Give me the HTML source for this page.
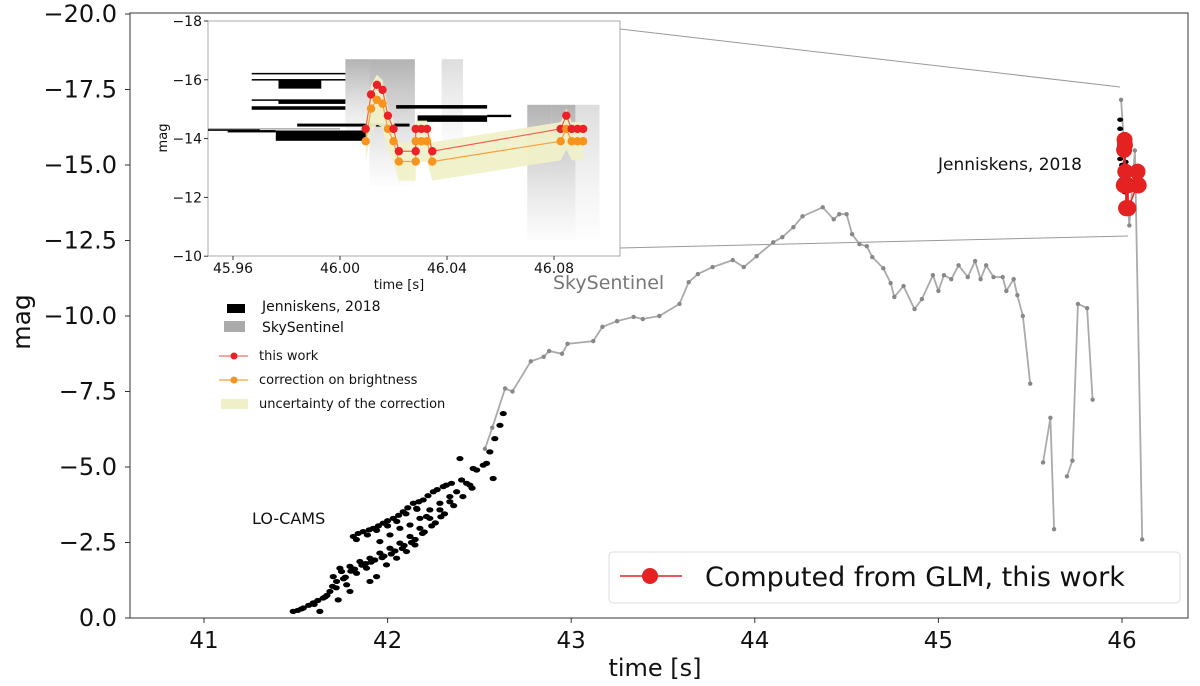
<!DOCTYPE html>
<html><head><meta charset="utf-8">
<style>
html,body{margin:0;padding:0;background:#fff;}
svg{display:block;font-family:"DejaVu Sans","Liberation Sans",sans-serif;}
</style></head>
<body>
<svg id="chart" width="1200" height="686" viewBox="0 0 1200 686" xmlns="http://www.w3.org/2000/svg">
<defs>
<linearGradient id="gfade" x1="0" y1="0" x2="0" y2="1">
<stop offset="0" stop-color="#999" stop-opacity="0.75"/><stop offset="1" stop-color="#bbb" stop-opacity="0.03"/>
</linearGradient>
<linearGradient id="gfade2" x1="0" y1="0" x2="0" y2="1">
<stop offset="0" stop-color="#aaa" stop-opacity="0.4"/><stop offset="1" stop-color="#ccc" stop-opacity="0.03"/>
</linearGradient>
</defs>
<g id="main"></g>
<g id="inset"></g>
<g id="legend"></g>
</svg>
<script>
// ---------- data ----------
const xTicks = [41, 42, 43, 44, 45, 46];
const yTicks = [0, -2.5, -5, -7.5, -10, -12.5, -15, -17.5, -20];
const skyT1 = [42.53,42.57,42.64,42.68,42.78,42.85,42.88,42.95,42.98,43.12,43.17,43.25,43.34,43.39,43.48,43.59,43.64,43.69,43.77,43.88,43.94,44.01,44.10,44.15,44.21,44.26,44.37,44.43,44.46,44.50,44.53,44.57,44.61,44.64,44.70,44.74,44.76,44.81,44.87,44.91,44.97,45.00,45.03,45.07,45.11,45.16,45.20,45.23,45.26,45.30,45.35,45.37,45.41,45.43,45.46,45.50];
const skyM1 = [-5.6,-6.3,-7.6,-7.5,-8.5,-8.65,-8.84,-8.75,-9.08,-9.17,-9.64,-9.83,-9.97,-9.9,-10.0,-10.4,-11.12,-11.39,-11.62,-11.85,-11.62,-11.98,-12.44,-12.61,-12.94,-13.3,-13.6,-13.2,-13.37,-13.37,-12.71,-12.38,-12.31,-11.95,-11.58,-11.09,-10.63,-10.99,-10.23,-10.56,-11.35,-10.83,-11.35,-11.22,-11.68,-11.29,-11.82,-11.22,-11.68,-11.29,-11.29,-10.83,-11.22,-10.69,-10.0,-7.76];
const skyT2 = [45.57,45.61,45.63];
const skyM2 = [-5.15,-6.63,-2.94];
const skyT3 = [45.70,45.73,45.76,45.81,45.84];
const skyM3 = [-4.69,-5.21,-10.4,-10.26,-7.23];
const skyT4 = [45.995,46.04,46.07,46.11];
const skyM4 = [-17.16,-13.0,-15.48,-2.6];
const camsT = [41.486,41.541,41.595,41.649,41.686,41.722,41.749,41.795,41.849,41.904,41.958,42.013,42.067,42.122,42.176,42.230,42.285,42.339,42.376,42.430,42.485,42.539,42.557,42.584,42.612,42.630,
41.813,41.867,41.922,41.976,42.031,42.085,42.140,42.194,42.249,42.303,42.348,42.403,42.448,42.466,42.521,42.394,
41.704,41.740,41.777,41.831,41.885,41.940,41.994,42.049,42.103,42.149,41.904,41.795,41.731,41.631,41.958,42.013,42.067,42.122,42.176,42.230,42.285,42.339,42.575,42.158,42.212,
41.51,41.57,41.62,41.67,41.70,41.77,41.82,41.88,41.93,41.98,42.04,42.09,42.15,42.20,42.26,42.31,42.36,42.41,42.46,41.84,41.90,41.95,42.00,42.06,42.11,42.17,42.22,42.27,42.32,
41.53,41.60,41.66,41.72,41.76,41.80,41.86,41.91,41.97,42.02,42.08,42.13,42.19,42.24,42.29,41.83,41.89,41.94,42.00,42.05,42.10,42.16];
const camsM = [-0.22,-0.33,-0.50,-0.66,-0.88,-1.21,-1.54,-1.71,-1.87,-1.98,-2.15,-2.31,-2.48,-2.70,-2.97,-3.30,-3.58,-3.85,-4.18,-4.46,-4.90,-5.12,-5.50,-5.94,-6.38,-6.77,
-2.70,-2.86,-2.97,-3.14,-3.30,-3.52,-3.80,-3.91,-4.18,-4.35,-4.46,-4.57,-4.40,-4.95,-5.06,-5.28,
-1.37,-1.65,-1.10,-1.48,-1.65,-1.37,-1.76,-1.98,-2.20,-2.42,-1.21,-0.88,-0.60,-0.22,-2.53,-2.75,-2.97,-3.08,-3.30,-3.58,-3.80,-4.02,-4.62,-3.63,-3.36,
-0.25,-0.42,-0.58,-0.75,-1.05,-1.35,-1.62,-1.80,-1.92,-2.05,-2.22,-2.40,-2.60,-2.85,-3.15,-3.45,-3.72,-4.02,-4.30,-2.80,-2.92,-3.05,-3.22,-3.40,-3.65,-3.85,-4.05,-4.25,-4.40,
-0.30,-0.45,-0.70,-1.00,-1.30,-1.55,-1.75,-1.85,-2.00,-2.12,-2.30,-2.50,-2.80,-3.05,-3.35,-2.60,-2.75,-2.90,-3.05,-3.20,-3.45,-3.60];
const jenT = [45.99,45.99,45.995,46.0,46.0,46.005,46.01,46.01,46.015,46.02,46.025,46.03,45.995,46.005,45.99,46.0];
const jenM = [-16.5,-16.2,-15.4,-15.0,-14.7,-14.3,-14.9,-15.6,-14.1,-15.1,-14.6,-14.9,-14.5,-15.9,-15.2,-14.4];
const workT = [46.0096,46.0116,46.0138,46.0159,46.0179,46.02,46.022,46.0283,46.0283,46.0304,46.0325,46.0345,46.0825,46.0846,46.0866,46.0888,46.0909];
const workM = [-14.33,-15.50,-15.83,-15.66,-14.78,-14.33,-13.57,-13.57,-14.33,-14.33,-14.33,-13.57,-14.33,-14.78,-14.33,-14.33,-14.33];
const corrM = [-13.91,-15.02,-15.32,-15.19,-14.33,-13.91,-13.22,-13.22,-13.91,-13.91,-13.91,-13.22,-13.91,-14.33,-13.91,-13.91,-13.91];
const corrErr = [0.7,0.8,0.85,0.8,0.75,0.7,0.65,0.65,0.7,0.7,0.7,0.65,0.65,0.7,0.65,0.65,0.65];
const insetXTicks = [45.96, 46.00, 46.04, 46.08];
const insetYTicks = [-18, -16, -14, -12, -10];
const barT0 = [45.958,45.967,45.977,45.967,45.967,45.977,45.967,45.976,45.984,46.021,46.029,46.055,45.95];
const barT1 = [45.976,46.002,45.993,46.002,46.002,46.002,46.002,46.010,46.026,46.055,46.055,46.064,45.97];
const barM  = [-14.33,-16.26,-16.15,-16.05,-15.36,-15.36,-15.16,-14.45,-14.56,-15.20,-14.90,-14.85,-14.33];
const barH  = [0.08,0.05,0.3,0.05,0.05,0.12,0.12,0.35,0.1,0.12,0.22,0.08,0.03];
const skyBT0 = [46.002,46.011,46.038,46.070,46.079,46.088];
const skyBT1 = [46.011,46.028,46.046,46.079,46.088,46.097];
const skyBTop = [-16.7,-16.7,-16.7,-15.15,-15.15,-15.15];
const skyBBot = [-14.0,-12.4,-13.5,-10.5,-10.5,-10.5];

// ---------- scales ----------
const X = t => 204 + (t - 41) * 183.6;
const Y = m => 618 + m * 30.2;
const XI = t => 233 + (t - 45.96) * 2675;
const YI = m => 21 + (m + 18) * 29.4;
const NS = "http://www.w3.org/2000/svg";
function mk(parent, tag, attrs, text) {
  const e = document.createElementNS(NS, tag);
  for (const k in attrs) e.setAttribute(k, attrs[k]);
  if (text !== undefined) e.textContent = text;
  parent.appendChild(e);
  return e;
}
const main = document.getElementById('main');
const inset = document.getElementById('inset');
const leg = document.getElementById('legend');

let e = mk(main, 'rect', {x:130, y:13, width:1058, height:605, fill:'none', stroke:'#555', 'stroke-width':1.2});


xTicks.forEach(t => {
  let tk = mk(main, 'line', {x1:X(t), x2:X(t), y1:618, y2:623, stroke:'#333'});
  
  
  let lb = mk(main, 'text', {x:X(t), y:648, 'font-size':23, 'text-anchor':'middle', fill:'#111'}, String(t));
  
  
});
yTicks.forEach(m => {
  let tk = mk(main, 'line', {x1:125, x2:130, y1:Y(m), y2:Y(m), stroke:'#333'});
  
  
  let s = (m === 0 ? '0.0' : '\u2212' + Math.abs(m).toFixed(1));
  let lb = mk(main, 'text', {x:117, y:Y(m) + 8, 'font-size':24, 'text-anchor':'end', fill:'#111'}, s);
  
  
});
e = mk(main, 'text', {x:655, y:676, 'font-size':24, 'text-anchor':'middle', fill:'#111'}, 'time [s]');


e = mk(main, 'text', {x:0, y:0, 'font-size':25, 'text-anchor':'middle', fill:'#111', transform:'translate(30,322) rotate(-90)'}, 'mag');



e = mk(main, 'line', {x1:620, y1:29, x2:1120, y2:87, stroke:'#999', 'stroke-width':1});


e = mk(main, 'line', {x1:620, y1:248, x2:1128, y2:236, stroke:'#999', 'stroke-width':1});



camsT.forEach((t, i) => {
  let d = mk(main, 'ellipse', {cx:X(t), cy:Y(camsM[i]), rx:3.6, ry:2.6, fill:'#000'});
  
  
});
function skyLine(ts, ms, name) {
  let pts = ts.map((t, i) => X(t).toFixed(1) + ',' + Y(ms[i]).toFixed(1)).join(' ');
  let l = mk(main, 'polyline', {points:pts, fill:'none', stroke:'#aaa', 'stroke-width':1.8});
  
  
  ts.forEach((t, i) => {
    let p = mk(main, 'circle', {cx:X(t), cy:Y(ms[i]), r:2.2, fill:'#888'});
    
    
  });
}
skyLine(skyT1, skyM1, 'skysentinel-line');
skyLine(skyT2, skyM2, 'skysentinel-line-2');
skyLine(skyT3, skyM3, 'skysentinel-line-3');
skyLine(skyT4, skyM4, 'skysentinel-line-4');
jenT.forEach((t, i) => {
  let d = mk(main, 'ellipse', {cx:X(t), cy:Y(jenM[i]), rx:3, ry:2.2, fill:'#000'});
  
  
});
e = mk(main, 'polyline', {points: workT.map((t, i) => X(t) + ',' + Y(workM[i])).join(' '), fill:'none', stroke:'#e52222', 'stroke-width':1.5});


workT.forEach((t, i) => {
  let d = mk(main, 'circle', {cx:X(t), cy:Y(workM[i]), r:8, fill:'#e52222'});
  
  
});
e = mk(main, 'text', {x:938, y:170, 'font-size':17, fill:'#111'}, 'Jenniskens, 2018');


e = mk(main, 'text', {x:553, y:289, 'font-size':19, fill:'#777'}, 'SkySentinel');


e = mk(main, 'text', {x:252, y:524, 'font-size':16, fill:'#111'}, 'LO-CAMS');



e = mk(leg, 'rect', {x:609, y:552, width:571, height:51, rx:4, fill:'#fff', stroke:'#ddd'});


e = mk(leg, 'line', {x1:620, x2:682, y1:576, y2:576, stroke:'#e52222', 'stroke-width':1.6});


e = mk(leg, 'circle', {cx:650, cy:576, r:8, fill:'#e52222'});


e = mk(leg, 'text', {x:705, y:586, 'font-size':27, fill:'#111'}, 'Computed from GLM, this work');



// ---------- inset ----------
e = mk(inset, 'rect', {x:208, y:21, width:412, height:235, fill:'#fff', stroke:'#aaa', 'stroke-width':1});


skyBT0.forEach((t, i) => {
  let r = mk(inset, 'rect', {x:XI(t), y:YI(skyBTop[i]), width:XI(skyBT1[i]) - XI(t), height:YI(skyBBot[i]) - YI(skyBTop[i]), fill: i % 3 === 2 ? 'url(#gfade2)' : 'url(#gfade)'});
  
  
});
e = mk(inset, 'line', {x1:208, x2:XI(46.0), y1:YI(-14.33), y2:YI(-14.33), stroke:'#888', 'stroke-width':1});


barT0.forEach((t, i) => {
  let r = mk(inset, 'rect', {x:Math.max(208, XI(t)), y:YI(barM[i] + barH[i] / 2), width:XI(barT1[i]) - Math.max(208, XI(t)), height:Math.max(1.5, barH[i] * 29.4), fill:'#000'});
  
  
});
function bandPath(i0, i1) {
  let up = [], dn = [];
  for (let i = i0; i <= i1; i++) { up.push(XI(workT[i]) + ',' + YI(corrM[i] - corrErr[i])); dn.unshift(XI(workT[i]) + ',' + YI(corrM[i] + corrErr[i])); }
  return 'M' + up.join(' L') + ' L' + dn.join(' L') + ' Z';
}
e = mk(inset, 'path', {d: bandPath(0, 7), fill:'#f0f0c8', opacity:0.95});


e = mk(inset, 'path', {d: bandPath(8, 16), fill:'#f0f0c8', opacity:0.95});


e = mk(inset, 'polyline', {points: workT.map((t, i) => XI(t) + ',' + YI(corrM[i])).join(' '), fill:'none', stroke:'#f7a040', 'stroke-width':1.2});


e = mk(inset, 'polyline', {points: workT.map((t, i) => XI(t) + ',' + YI(workM[i])).join(' '), fill:'none', stroke:'#f06050', 'stroke-width':1.2});


workT.forEach((t, i) => {
  let d = mk(inset, 'circle', {cx:XI(t), cy:YI(corrM[i]), r:4.2, fill:'#f7941d'});
  
  
  let d2 = mk(inset, 'circle', {cx:XI(t), cy:YI(workM[i]), r:4.2, fill:'#ec2027'});
  
  
});
insetXTicks.forEach(t => {
  let tk = mk(inset, 'line', {x1:XI(t), x2:XI(t), y1:256, y2:260, stroke:'#333'});
  
  
  let lb = mk(inset, 'text', {x:XI(t), y:273, 'font-size':14, 'text-anchor':'middle', fill:'#111'}, t.toFixed(2));
  
  
});
insetYTicks.forEach(m => {
  let tk = mk(inset, 'line', {x1:204, x2:208, y1:YI(m), y2:YI(m), stroke:'#333'});
  
  
  let lb = mk(inset, 'text', {x:202, y:YI(m) + 5, 'font-size':14, 'text-anchor':'end', fill:'#111'}, '\u2212' + Math.abs(m));
  
  
});
e = mk(inset, 'text', {x:399, y:289, 'font-size':13, 'text-anchor':'middle', fill:'#111'}, 'time [s]');


e = mk(inset, 'text', {x:0, y:0, 'font-size':13, 'text-anchor':'middle', fill:'#111', transform:'translate(167,138) rotate(-90)'}, 'mag');



e = mk(leg, 'rect', {x:227, y:304, width:18, height:9, fill:'#000'});


e = mk(leg, 'text', {x:262, y:311, 'font-size':14, fill:'#111'}, 'Jenniskens, 2018');


e = mk(leg, 'rect', {x:224, y:321, width:21, height:11, fill:'#aaa'});


e = mk(leg, 'text', {x:262, y:332, 'font-size':14, fill:'#111'}, 'SkySentinel');


e = mk(leg, 'line', {x1:219, x2:248, y1:356, y2:356, stroke:'#f07060', 'stroke-width':1.2});


e = mk(leg, 'circle', {cx:234, cy:356, r:3.5, fill:'#ec2027'});


e = mk(leg, 'text', {x:259, y:360, 'font-size':13, fill:'#111'}, 'this work');


e = mk(leg, 'line', {x1:219, x2:248, y1:380, y2:380, stroke:'#f7a040', 'stroke-width':1.2});


e = mk(leg, 'circle', {cx:234, cy:380, r:3.5, fill:'#f7941d'});


e = mk(leg, 'text', {x:259, y:384, 'font-size':13, fill:'#111'}, 'correction on brightness');


e = mk(leg, 'rect', {x:221, y:399, width:27, height:10, fill:'#f0f0c8'});


e = mk(leg, 'text', {x:259, y:408, 'font-size':13, fill:'#111'}, 'uncertainty of the correction');


</script>
</body></html>
